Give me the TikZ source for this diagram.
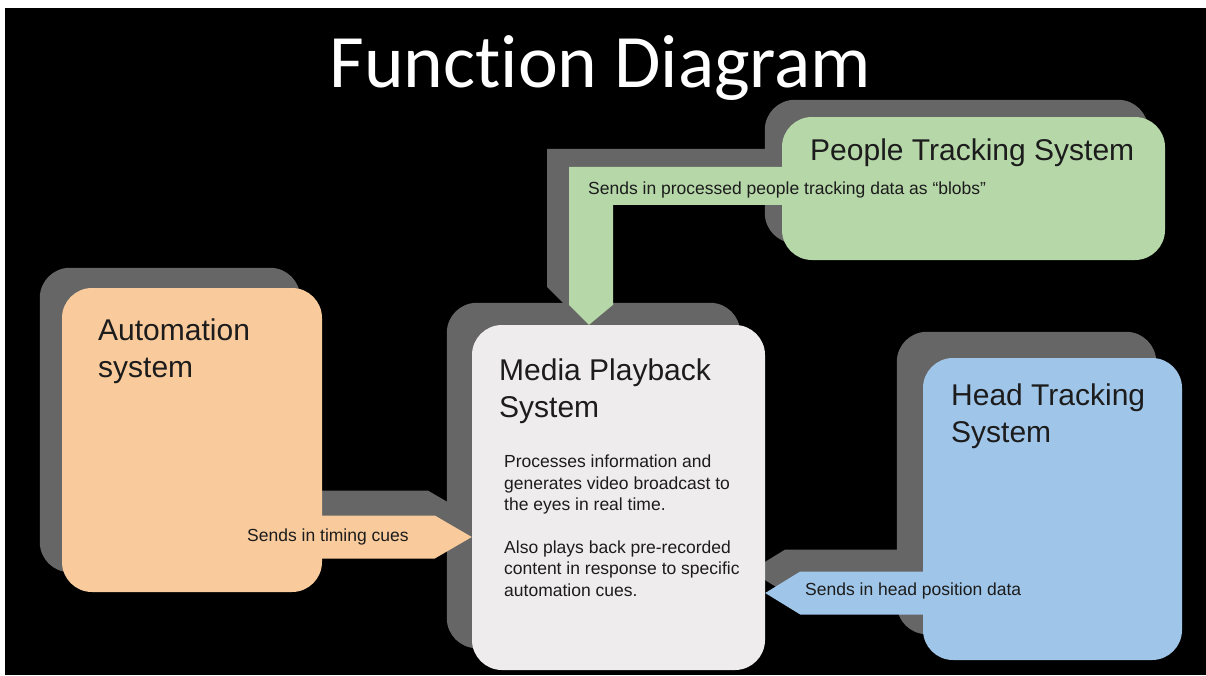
\documentclass[tikz,border=0pt]{standalone}
\usepackage{fontspec}
\setmainfont{Liberation Sans}
\newfontfamily\titlefont[Ligatures=NoCommon]{Carlito}
\usetikzlibrary{backgrounds}
\definecolor{shadowgray}{HTML}{666666}
\definecolor{orangefill}{HTML}{F9CB9C}
\definecolor{greenfill}{HTML}{B6D7A8}
\definecolor{bluefill}{HTML}{9FC5E8}
\definecolor{lightfill}{HTML}{EEECEC}
\definecolor{inktext}{HTML}{1C1C1C}
\tikzset{
  box/.style={rectangle, rounded corners=30pt, inner sep=0pt, draw=none},
  boxtitle/.style={inner sep=0pt, anchor=base west, align=left, text=inktext,
    font=\fontsize{30}{36.5}\selectfont},
  bodytext/.style={inner sep=0pt, anchor=base west, align=left, text=inktext,
    font=\fontsize{17.5}{21.4}\selectfont},
  arrowlabel/.style={inner sep=0pt, anchor=base west, text=inktext,
    font=\fontsize{17.5}{21}\selectfont}
}
\begin{document}
\begin{tikzpicture}[x=1pt,y=-1pt]
\useasboundingbox (0,0) rectangle (1206,675);
% boxes
\node[box, fill=orangefill, minimum width=260pt, minimum height=304pt] (auto) at (192,440) {};
\node[box, fill=lightfill, minimum width=293pt, minimum height=345pt] (media) at (618.5,497.5) {};
\node[box, fill=greenfill, minimum width=383pt, minimum height=143pt] (people) at (973.5,188.5) {};
\node[box, fill=bluefill, minimum width=259pt, minimum height=302pt] (head) at (1052.5,509) {};
% arrow tips
\coordinate (tA) at (media.west |- 0,537);
\coordinate (tB) at (589,0 |- media.north);
\coordinate (tC) at (media.east |- 0,593);
\begin{pgfonlayer}{background}
  \fill[white] (0,0) rectangle (1206,675);
  \fill[black] (5,8) rectangle (1206,675);
  % box shadows
  \fill[shadowgray, rounded corners=30pt] ([shift={(-22,-20)}]auto.north west) rectangle ([shift={(-22,-20)}]auto.south east);
  \fill[shadowgray, rounded corners=30pt] ([shift={(-25,-22)}]media.north west) rectangle ([shift={(-25,-22)}]media.south east);
  \fill[shadowgray, rounded corners=30pt] ([shift={(-17,-17)}]people.north west) rectangle ([shift={(-17,-17)}]people.south east);
  \fill[shadowgray, rounded corners=30pt] ([shift={(-26,-26)}]head.north west) rectangle ([shift={(-26,-26)}]head.south east);
  % arrow shadows
  \fill[shadowgray] ([shift={(-7,-25)}]tA) -- ++(-37,-21.5) -- ++(-135,0) -- ++(0,43) -- ++(135,0) -- cycle;
  \fill[shadowgray] ([shift={(-22,-18)}]tB) -- ++(-20,-20) -- ++(0,-138) -- ++(228,0) -- ++(0,38) -- ++(-184,0) -- ++(0,100) -- cycle;
  \fill[shadowgray] ([shift={(-15,-22)}]tC) -- ++(35,-21.5) -- ++(143,0) -- ++(0,43) -- ++(-143,0) -- cycle;
\end{pgfonlayer}
% arrows
\fill[orangefill] (tA) -- ++(-37,-21.5) -- ++(-135,0) -- ++(0,43) -- ++(135,0) -- cycle;
\fill[greenfill] (tB) -- ++(-20,-20) -- ++(0,-138) -- ++(228,0) -- ++(0,38) -- ++(-184,0) -- ++(0,100) -- cycle;
\fill[bluefill] (tC) -- ++(35,-21.5) -- ++(143,0) -- ++(0,43) -- ++(-143,0) -- cycle;
% texts (multi-line nodes: base anchor is the last line's baseline)
\node[inner sep=0pt, anchor=base, text=white, font=\titlefont\fontsize{75.5}{75.5}\selectfont] (title) at (600.5,87) {Function Diagram};
\node[boxtitle] (autot) at (98,377) {Automation\\system};
\node[boxtitle] (mediat) at (499,417) {Media Playback\\System};
\node[bodytext] (mediab) at (504,596) {Processes information and\\generates video broadcast to\\the eyes in real time.\\[21.4pt]Also plays back pre-recorded\\content in response to specific\\automation cues.};
\node[boxtitle] (peoplet) at (810,160) {People Tracking System};
\node[boxtitle] (headt) at (951,442) {Head Tracking\\System};
\node[arrowlabel] (labA) at (247,541) {Sends in timing cues};
\node[arrowlabel] (labB) at (588,194) {Sends in processed people tracking data as “blobs”};
\node[arrowlabel] (labC) at (805,595) {Sends in head position data};
\end{tikzpicture}
\end{document}
